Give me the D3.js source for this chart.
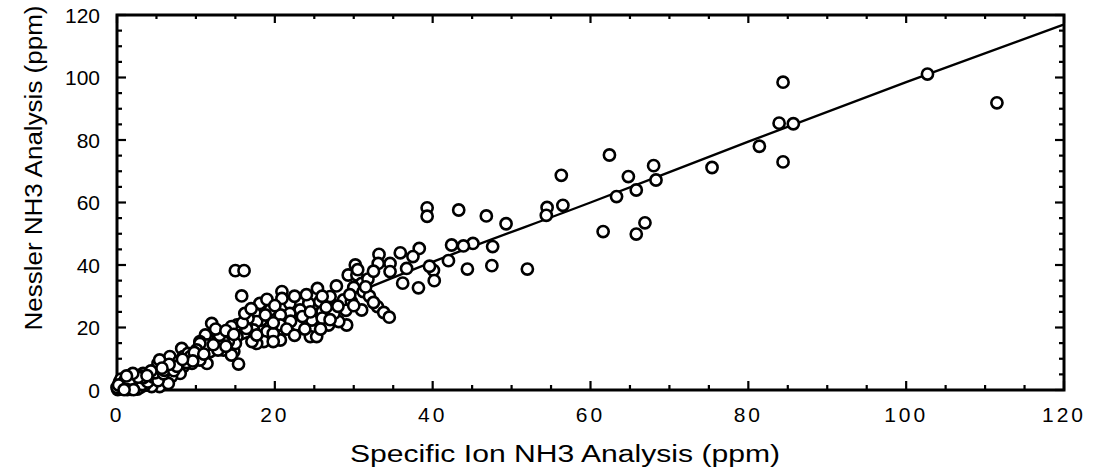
<!DOCTYPE html>
<html>
<head>
<meta charset="utf-8">
<script src="https://cdn.jsdelivr.net/npm/d3@7"></script>
<style>
  html, body { margin: 0; padding: 0; background: #fff; }
  svg { display: block; font-family: "Liberation Sans", Arial, sans-serif; }
</style>
</head>
<body>
<svg id="chart" width="1098" height="476"></svg>
<script>
// Specific ion NH3 (x) vs Nessler NH3 (y), ppm
const ionX = [
  84.4, 83.9, 85.7, 81.4, 84.4, 75.4, 102.7, 111.5,
  62.4, 56.3, 64.8, 68.0, 68.3, 65.8, 63.3, 61.6, 66.9, 65.8,
  56.5, 54.5, 54.4, 49.3, 46.8, 43.3, 39.3, 39.3,
  47.6, 47.5, 52.0, 44.4, 45.1, 43.9, 42.4, 42.0, 40.1, 40.2, 39.6, 38.2, 38.3, 37.5, 35.9, 36.2, 34.6, 34.6, 33.2,
  33.0, 33.8, 34.5, 36.7, 33.1,
  30.2, 29.3, 30.4, 31.0, 30.0, 31.2, 27.8, 25.4, 27.0, 28.7, 29.7, 31.0, 29.1, 28.1, 26.8, 24.5, 25.3, 24.7, 22.8,
  23.0, 24.3, 25.7, 21.9, 23.2, 21.9, 20.9, 20.9, 20.7, 20.7, 20.7, 19.4, 18.3, 19.0, 19.8, 18.6, 19.8, 18.1,
  17.5, 17.7, 17.3, 16.6, 16.4, 17.3, 17.7, 15.2, 15.2, 15.0, 16.1, 15.8, 15.4, 14.8, 15.0,
  26.0, 27.5, 29.0, 28.0, 26.5, 30.0, 32.0, 32.5, 31.8, 32.5, 29.5, 26.0, 24.0, 22.5, 23.5, 22.0, 26.0, 27.0, 31.5, 30.5,
  14.5, 12.0, 11.2, 10.5, 11.8, 10.5, 12.8, 12.6, 13.5, 14.5, 14.1, 11.4, 10.5, 8.2, 8.4, 7.8, 6.5, 5.2, 6.3, 4.2,
  5.4, 2.9, 6.7, 5.4, 3.3, 2.1, 10.1, 9.0, 8.4, 8.0, 6.9, 5.7, 4.6, 6.5, 4.4, 11.4, 10.5, 9.3, 7.8, 12.8,
  17.1, 17.7, 13.5, 9.5, 7.0, 4.0, 3.0, 5.0,
  9.8, 11.0, 12.2, 13.8, 13.0, 12.5, 13.8, 14.8, 15.9, 16.2, 17.0, 18.8, 19.0, 19.8, 20.0, 21.5, 22.5, 23.8, 24.5, 25.8,
  0.2, 0.5, 1.0, 1.0, 1.5, 0.4, 2.0, 1.3, 2.0, 2.5, 3.0, 3.6, 0.1, 1.8, 3.0, 4.0, 0.8, 2.6, 0.3, 1.5,
  3.5, 2.2, 0.6, 1.2, 0.9, 1.7,
  0.0, 0.3, 0.7, 1.1, 1.4, 1.9, 2.3, 2.4, 2.8, 3.2, 0.5, 1.0, 1.6, 0.2, 1.3, 2.1, 0.9, 3.9,
  3.3, 2.7, 4.6, 5.2, 4.8, 5.9, 6.0, 7.2, 7.6, 8.8, 9.6, 8.3, 6.6, 5.7, 4.3, 3.8, 2.0, 1.2
];
const nesslerY = [
  98.5, 85.4, 85.2, 78.0, 73.0, 71.2, 101.1, 91.9,
  75.2, 68.7, 68.3, 71.8, 67.2, 64.0, 61.9, 50.7, 53.5, 49.9,
  59.1, 58.4, 55.9, 53.2, 55.7, 57.6, 58.3, 55.6,
  45.9, 39.8, 38.7, 38.7, 46.9, 46.1, 46.4, 41.4, 38.3, 35.0, 39.6, 32.7, 45.3, 42.7, 43.9, 34.2, 40.5, 37.9, 43.4,
  26.7, 24.8, 23.3, 38.9, 40.5,
  40.0, 36.8, 36.8, 34.1, 32.8, 31.5, 33.3, 32.5, 29.9, 28.8, 28.3, 25.6, 20.8, 21.9, 20.8, 17.1, 17.1, 22.4, 20.8,
  28.3, 27.7, 28.3, 27.7, 25.6, 24.5, 31.5, 29.3, 24.0, 20.8, 16.0, 25.6, 22.4, 18.7, 18.1, 15.5, 15.5, 27.7,
  24.5, 21.9, 19.2, 22.9, 19.7, 16.0, 14.9, 20.8, 17.1, 38.2, 38.2, 30.1, 8.3, 12.3, 14.9,
  25.0, 24.5, 25.5, 26.8, 26.5, 27.0, 30.0, 28.0, 35.5, 38.0, 30.5, 30.0, 30.5, 30.0, 23.5, 22.0, 23.0, 22.5, 33.0, 38.5,
  20.3, 21.3, 17.6, 15.5, 12.3, 10.7, 17.1, 13.9, 12.8, 11.2, 15.5, 14.4, 14.9, 13.3, 10.7, 8.5, 6.9, 8.5, 4.3, 2.7,
  1.1, 2.1, 10.7, 9.6, 5.3, 4.3, 12.8, 11.7, 7.5, 5.3, 4.3, 3.7, 3.2, 2.1, 1.1, 8.5, 9.6, 10.7, 9.1, 12.8,
  15.5, 17.6, 15.5, 8.5, 7.5, 5.0, 4.5, 5.5,
  12.0, 11.5, 14.5, 14.0, 17.5, 19.5, 19.0, 17.8, 21.5, 24.5, 26.0, 24.0, 29.0, 21.5, 27.0, 19.5, 17.5, 19.5, 25.0, 19.5,
  0.3, 1.0, 0.4, 1.6, 0.8, 2.0, 1.0, 2.6, 2.4, 1.5, 3.2, 2.4, 0.1, 0.2, 0.9, 3.6, 3.2, 0.3, 1.3, 3.8,
  1.5, 3.5, 0.6, 1.2, 2.2, 1.7,
  0.8, 2.5, 1.8, 0.9, 2.1, 1.4, 0.7, 2.9, 2.2, 1.8, 3.5, 3.0, 3.0, 1.6, 0.1, 0.1, 0.1, 2.6,
  3.9, 4.1, 4.1, 3.0, 5.5, 5.2, 6.3, 6.2, 7.6, 8.8, 9.3, 9.8, 8.2, 7.0, 6.1, 4.6, 5.3, 4.5
];

// fitted curve
const fitX = [0, 20, 40, 60, 80, 100, 120];
const fitY = [0, 20.5, 41, 60, 79.5, 98.5, 117];

const xTicks = [0, 20, 40, 60, 80, 100, 120];
const xTickLabels = ["0", "20", "40", "60", "80", "100", "120"];
const yTicks = [0, 20, 40, 60, 80, 100, 120];
const yTickLabels = ["0", "20", "40", "60", "80", "100", "120"];

const svg = d3.select("#chart");
const plotL = 117, plotR = 1064, plotT = 15, plotB = 390;

const x = d3.scaleLinear().domain([0, 120]).range([plotL, plotR]);
const y = d3.scaleLinear().domain([0, 120]).range([plotB, plotT]);

const minor = d3.range(0, 121, 5);

// frame ticks, all pointing inward
function tickLen(v) { return v % 20 === 0 ? 9 : 5; }

const ticks = svg.append("g").attr("stroke", "#000").attr("stroke-width", 2.2);
minor.forEach(v => {
  ticks.append("line").attr("x1", x(v)).attr("x2", x(v))
    .attr("y1", plotB).attr("y2", plotB - tickLen(v));
  ticks.append("line").attr("x1", x(v)).attr("x2", x(v))
    .attr("y1", plotT).attr("y2", plotT + tickLen(v) - 1);
  ticks.append("line").attr("y1", y(v)).attr("y2", y(v))
    .attr("x1", plotL).attr("x2", plotL + tickLen(v));
  ticks.append("line").attr("y1", y(v)).attr("y2", y(v))
    .attr("x1", plotR).attr("x2", plotR - tickLen(v));
});

svg.append("rect")
  .attr("x", plotL).attr("y", plotT)
  .attr("width", plotR - plotL).attr("height", plotB - plotT)
  .attr("fill", "none").attr("stroke", "#000").attr("stroke-width", 3);

// tick labels
svg.append("g").selectAll("text").data(xTicks).join("text")
  .attr("x", d => x(d)).attr("y", 422)
  .attr("text-anchor", "middle")
  .attr("font-size", 21).attr("letter-spacing", 3)
  .text((d, i) => xTickLabels[i]);

svg.append("g").selectAll("text").data(yTicks).join("text")
  .attr("x", 100).attr("y", d => y(d) + 7.5)
  .attr("text-anchor", "end")
  .attr("font-size", 21)
  .text((d, i) => yTickLabels[i]);

// axis titles
svg.append("text")
  .attr("x", 565).attr("y", 462)
  .attr("text-anchor", "middle").attr("font-size", 23)
  .attr("textLength", 430).attr("lengthAdjust", "spacingAndGlyphs")
  .text("Specific Ion NH3 Analysis (ppm)");

svg.append("text")
  .attr("transform", "translate(42,168) rotate(-90)")
  .attr("text-anchor", "middle").attr("font-size", 23)
  .attr("textLength", 325).attr("lengthAdjust", "spacingAndGlyphs")
  .text("Nessler NH3 Analysis (ppm)");

// fit line
const line = d3.line()
  .x(d => x(d[0])).y(d => y(d[1]))
  .curve(d3.curveMonotoneX);
svg.append("path")
  .datum(fitX.map((v, i) => [v, fitY[i]]))
  .attr("fill", "none").attr("stroke", "#000").attr("stroke-width", 2.4)
  .attr("d", line);

// data points
svg.append("g").selectAll("circle").data(ionX).join("circle")
  .attr("cx", d => x(d))
  .attr("cy", (d, i) => y(nesslerY[i]))
  .attr("r", 5.6)
  .attr("fill", "#fff").attr("stroke", "#000").attr("stroke-width", 2.6);
</script>
</body>
</html>
